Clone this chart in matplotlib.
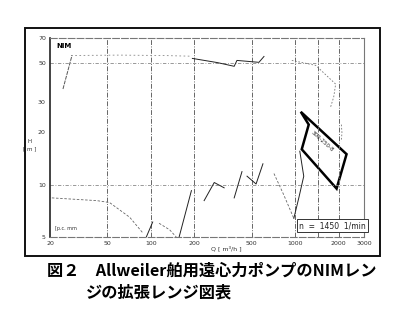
import matplotlib.pyplot as plt
from matplotlib.patches import Rectangle, Polygon

# ── DATA (Q [m3/h], H [m]) ────────────────────────────────
x_ticks = [20, 50, 100, 200, 500, 1000, 2000, 3000]
x_labels = ["20", "50", "100", "200", "500", "1000", "2000", "3000"]
y_ticks = [5, 10, 20, 30, 50, 70]
y_labels = ["5", "10", "20", "30", "50", "70"]
v_grid = [50, 100, 200, 500, 1000, 1450, 2000]
h_grid = [10, 50]

# dotted / dashed characteristic curves
dash_lowleft_q = [20.6, 42.2, 51.7, 71.3, 87.6]
dash_lowleft_h = [8.4, 8.1, 7.9, 6.5, 5.3]
dash_100_q = [114, 135, 150]
dash_100_h = [6.0, 5.5, 5.0]
dash_1000_q = [713, 836, 979]
dash_1000_h = [11.6, 8.7, 6.4]
dot_top_q = [28, 60, 120, 190]
dot_top_h = [55.5, 55.8, 55.5, 55.0]
dot_right_q = [948, 1388, 1908, 1850, 1762]
dot_right_h = [52, 48.7, 38, 32, 28.1]
dot_right2_q = [2090, 2110, 2090]
dot_right2_h = [22.2, 20, 17.8]

# solid curves
steep_q = [24.6, 28.4]
steep_h = [35.6, 55.5]
top_q = [194, 290, 378, 395, 561, 608]
top_h = [53.4, 50.5, 48.1, 52.0, 50.7, 54.8]
s100_q = [93, 103]
s100_h = [5.0, 6.1]
s200_q = [157, 191]
s200_h = [5.0, 9.25]
teeth = [
    ([234, 275, 322], [8.1, 10.3, 9.6]),
    ([378, 428], [8.4, 11.9]),
    ([464, 536, 598], [11.2, 10.1, 13.2]),
    ([979, 1060, 1147, 1077], [6.4, 8.4, 11.2, 15.6]),
]

# NIM 300-250-8 range
poly_q = [1094, 1242, 1111, 1937, 2271]
poly_h = [26.3, 22.2, 16.0, 9.5, 15.0]

# ── FIGURE ────────────────────────────────────────────────
plt.rcParams["font.family"] = ["DejaVu Sans"]
fig = plt.figure(figsize=(4.0, 3.09), dpi=100)
ax = fig.add_axes([0.125, 0.233, 0.785, 0.644])
ax.set_xscale("log")
ax.set_yscale("log")
ax.set_xlim(20, 3000)
ax.set_ylim(5, 68)

ax.set_xticks(x_ticks)
ax.set_xticklabels(x_labels, fontsize=4.5, color="#333333")
ax.set_yticks(y_ticks)
ax.set_yticklabels(y_labels, fontsize=4.5, color="#333333")
ax.minorticks_off()
ax.tick_params(length=0, pad=3)

for s in ["top", "bottom", "right"]:
    ax.spines[s].set_color("#777777")
    ax.spines[s].set_linewidth(0.8)
ax.spines["top"].set_linestyle((0, (6, 2)))
ax.spines["bottom"].set_linestyle((0, (6, 2)))
ax.spines["left"].set_color("#222222")
ax.spines["left"].set_linewidth(1.2)

for v in v_grid:
    ax.axvline(v, color="#666666", lw=0.7, ls=(0, (5, 1.5, 1, 1.5)))
for h in h_grid:
    ax.axhline(h, color="#888888", lw=0.6, ls=(0, (4, 2, 1, 2)))

dash = dict(color="#666666", lw=0.6, ls=(0, (3, 2)))
ax.plot(dash_lowleft_q, dash_lowleft_h, **dash)
ax.plot(dash_100_q, dash_100_h, **dash)
ax.plot(dash_1000_q, dash_1000_h, **dash)
ax.plot(dot_top_q, dot_top_h, color="#888888", lw=0.6, ls=(0, (2, 3)))
ax.plot(dot_right_q, dot_right_h, color="#777777", lw=0.6, ls=(0, (2, 2)))
ax.plot(dot_right2_q, dot_right2_h, color="#777777", lw=0.6, ls=(0, (2, 2)))

solid = dict(color="#222222", lw=0.7)
ax.plot(steep_q, steep_h, color="#555555", lw=0.7, ls=(0, (4, 1)))
ax.plot(top_q, top_h, **solid)
ax.plot(s100_q, s100_h, **solid)
ax.plot(s200_q, s200_h, **solid)
for q, h in teeth:
    ax.plot(q, h, **solid)

ax.add_patch(Polygon(list(zip(poly_q, poly_h)), closed=True, fill=False,
                     edgecolor="black", lw=1.8, joinstyle="miter"))
ax.text(1528, 17.8, "300-250-8", fontsize=4, rotation=-42,
        ha="center", va="center", color="#222222")

ax.text(0.02, 0.975, "NIM", transform=ax.transAxes, fontsize=5,
        fontweight="bold", ha="left", va="top")
ax.text(0.015, 0.03, "[p.c. mm", transform=ax.transAxes, fontsize=3.5,
        ha="left", va="bottom", color="#333333")
ax.text(-0.065, 0.46, "H\n[ m ]", transform=ax.transAxes, fontsize=4,
        ha="center", va="center", color="#333333", linespacing=1.6)
ax.text(0.56, -0.045, "Q [ m³/h ]", transform=ax.transAxes, fontsize=4.5,
        ha="center", va="top", color="#333333")
ax.text(0.9, 0.035, "n  =  1450  1/min", transform=ax.transAxes,
        fontsize=5.5, ha="center", va="bottom", color="#222222",
        bbox=dict(boxstyle="square,pad=0.3", facecolor="white",
                  edgecolor="#333333", linewidth=0.7))

# outer frame
fig.patches.append(Rectangle((0.0625, 0.1715), 0.8875, 0.7375,
                             transform=fig.transFigure, fill=False,
                             edgecolor="#111111", lw=1.4))

cap = ["Noto Sans CJK JP", "DejaVu Sans"]
fig.text(0.118, 0.125, "図２　Allweiler舶用遠心力ポンプのNIMレン",
         fontsize=11.7, fontweight="bold", family=cap, ha="left", va="center")
fig.text(0.215, 0.055, "ジの拡張レンジ図表",
         fontsize=11.7, fontweight="bold", family=cap, ha="left", va="center")

fig.savefig("out.png", dpi=100)
